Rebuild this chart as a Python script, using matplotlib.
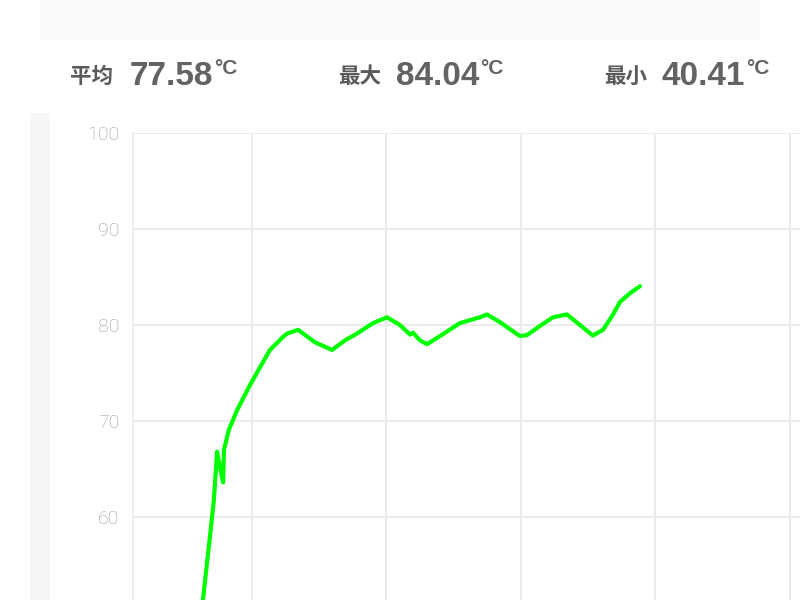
import matplotlib
matplotlib.use("Agg")
import matplotlib.pyplot as plt
from matplotlib.patches import Rectangle

# ---------------- data ----------------
stat_labels = ["平均", "最大", "最小"]
stat_values = ["77.58", "84.04", "40.41"]
stat_unit = "°C"

# elapsed time (s) and temperature (°C)
time_s = [32.8, 38.1, 41.3, 43.0, 44.4, 45.3, 47.1, 47.5, 49.7, 53.3, 59.1,
          63.6, 68.0, 73.8, 75.6, 80.5, 88.1, 95.7, 101.5, 106.8, 114.0,
          120.2, 126.0, 130.5, 131.8, 134.9, 138.1, 143.9, 152.8, 161.7,
          164.8, 170.6, 179.5, 182.7, 188.5, 194.3, 200.5, 206.3, 212.1,
          216.6, 220.6, 224.2, 228.6, 233.1]
temp_c = [40.41, 51.35, 58.1, 61.8, 66.8, 65.7, 63.6, 67.0, 69.1, 71.1, 73.75,
          75.6, 77.4, 78.75, 79.1, 79.5, 78.2, 77.4, 78.4, 79.1, 80.2,
          80.8, 80.0, 79.0, 79.2, 78.4, 78.0, 78.85, 80.2, 80.8,
          81.1, 80.3, 78.85, 78.95, 79.9, 80.8, 81.1, 80.0, 78.9,
          79.5, 80.9, 82.4, 83.3, 84.04]

y_ticks = [60, 70, 80, 90, 100]
x_grid = [60, 120, 180, 240, 300]

# ---------------- layout ----------------
W, H = 800, 600
fig = plt.figure(figsize=(8, 6), dpi=100)
fig.patch.set_facecolor("white")

def fx(px):
    return px / W

def fy(py):
    return 1 - py / H

# top panel & left strip
fig.patches.append(Rectangle((fx(40), fy(40)), fx(720), 40 / H, transform=fig.transFigure,
                             facecolor="#fafafa", edgecolor="none", zorder=0))
fig.patches.append(Rectangle((fx(30), 0), fx(20), fy(113), transform=fig.transFigure,
                             facecolor="#f6f6f6", edgecolor="none", zorder=0))

ax = fig.add_axes([fx(133), 0, 1 - fx(133), fy(133)])
ax.set_facecolor("white")
ax.set_xlim(6.9, 304.5)
ax.set_ylim(51.35, 100)

grid_c = "#ebebeb"
for v in y_ticks:
    ax.axhline(v, color=grid_c, lw=1.4, zorder=1)
for v in x_grid:
    ax.axvline(v, color=grid_c, lw=1.4, zorder=1)

for s in ["top", "right", "bottom"]:
    ax.spines[s].set_visible(False)
ax.spines["left"].set_color("#eeeeee")
ax.spines["left"].set_linewidth(1.4)

ax.set_xticks([])
ax.set_yticks(y_ticks)
ax.tick_params(axis="y", length=0, pad=10, labelcolor="#9c9c9c", labelsize=14)
for lab in ax.get_yticklabels():
    lab.set_fontfamily(["Roboto", "DejaVu Sans"])
    lab.set_fontweight("light")

ax.plot(time_s, temp_c, color="#00ff00", lw=3, solid_joinstyle="round",
        solid_capstyle="round", zorder=3, clip_on=True)

# ---------------- header ----------------
label_x = [70, 338, 604]
value_x = [130, 396, 662]
cjk = ["Noto Sans CJK SC", "DejaVu Sans"]
num = ["Liberation Sans", "DejaVu Sans"]
txt_c = "#5a5a5a"

fig.canvas.draw()
renderer = fig.canvas.get_renderer()
for lab, val, lx, vx in zip(stat_labels, stat_values, label_x, value_x):
    fig.text(fx(lx), fy(83), lab, family=cjk, fontweight="bold", fontsize=15.5,
             color=txt_c, ha="left", va="baseline")
    t = fig.text(fx(vx), fy(85), val, family=num, fontweight="bold", fontsize=24,
                 color="#636363", ha="left", va="baseline")
    bb = t.get_window_extent(renderer=renderer)
    fig.text((bb.x1 + 1) / W, fy(74), stat_unit, family=num, fontweight="bold",
             fontsize=15, color="#636363", ha="left", va="baseline")

fig.savefig("out.png", dpi=100, facecolor=fig.get_facecolor())
